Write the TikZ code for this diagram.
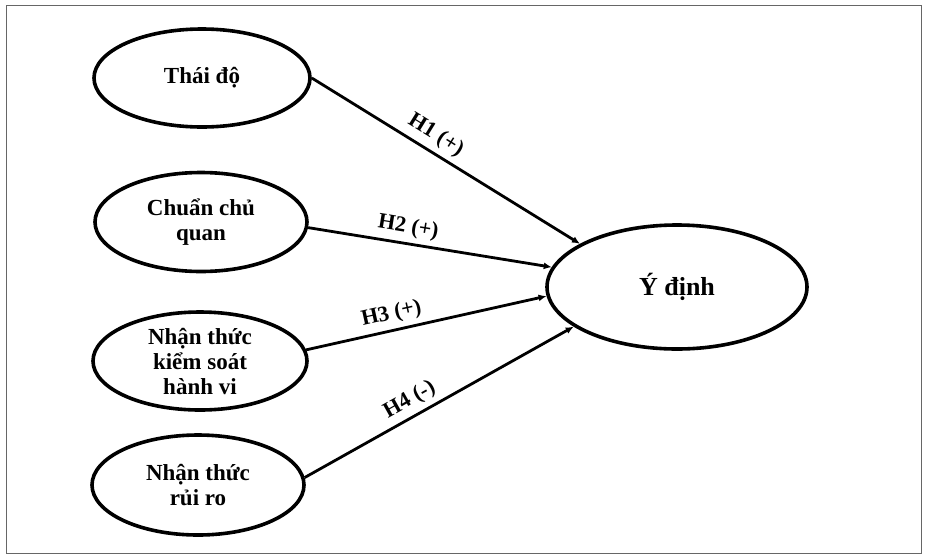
\documentclass[tikz,border=0pt]{standalone}
\usepackage{fontspec}
\setmainfont{Liberation Serif}
\usetikzlibrary{shapes.geometric,arrows.meta}

\tikzset{
  construct/.style={ellipse, draw=black, line width=3.6pt, inner sep=0pt,
    align=center, font=\fontsize{23}{25}\selectfont\bfseries},
  path/.style={line width=2.8pt, -{Latex[length=8pt,width=7pt]}},
  hyp/.style={sloped, above, inner sep=5pt, font=\fontsize{22}{24}\selectfont\bfseries}
}

\begin{document}
\begin{tikzpicture}[x=1pt, y=-1pt]
  \useasboundingbox (0,0) rectangle (929,555);
  % outer frame
  \draw[line width=1pt, black!60] (6,5) rectangle (921,553);

  % antecedent constructs
  \node[construct, minimum width=216pt, minimum height=98pt] (thai) at (202,78) {Thái độ};
  \node[construct, minimum width=212pt, minimum height=99pt] (chuan) at (201,222) {Chuẩn chủ\\quan};
  \node[construct, minimum width=214pt, minimum height=98pt] (kiem) at (200,361) {Nhận thức\\kiểm soát\\hành vi};
  \node[construct, minimum width=212pt, minimum height=100pt] (ruiro) at (198,485) {Nhận thức\\rủi ro};

  % outcome construct
  \node[construct, minimum width=260pt, minimum height=124pt,
        font=\fontsize{26}{28}\selectfont\bfseries] (ydinh) at (677,287) {Ý định};

  % hypothesised paths
  \draw[path] (thai.0)   -- node[hyp, pos=0.43] {H1 (+)} (ydinh.156);
  \draw[path] (chuan.-3) -- node[hyp, pos=0.40] {H2 (+)} (ydinh.171);
  \draw[path] (kiem.6)   -- node[hyp, pos=0.37] {H3 (+)} (ydinh.184);
  \draw[path] (ruiro.4)  -- node[hyp, pos=0.42] {H4 (-)} (ydinh.201);
\end{tikzpicture}
\end{document}
